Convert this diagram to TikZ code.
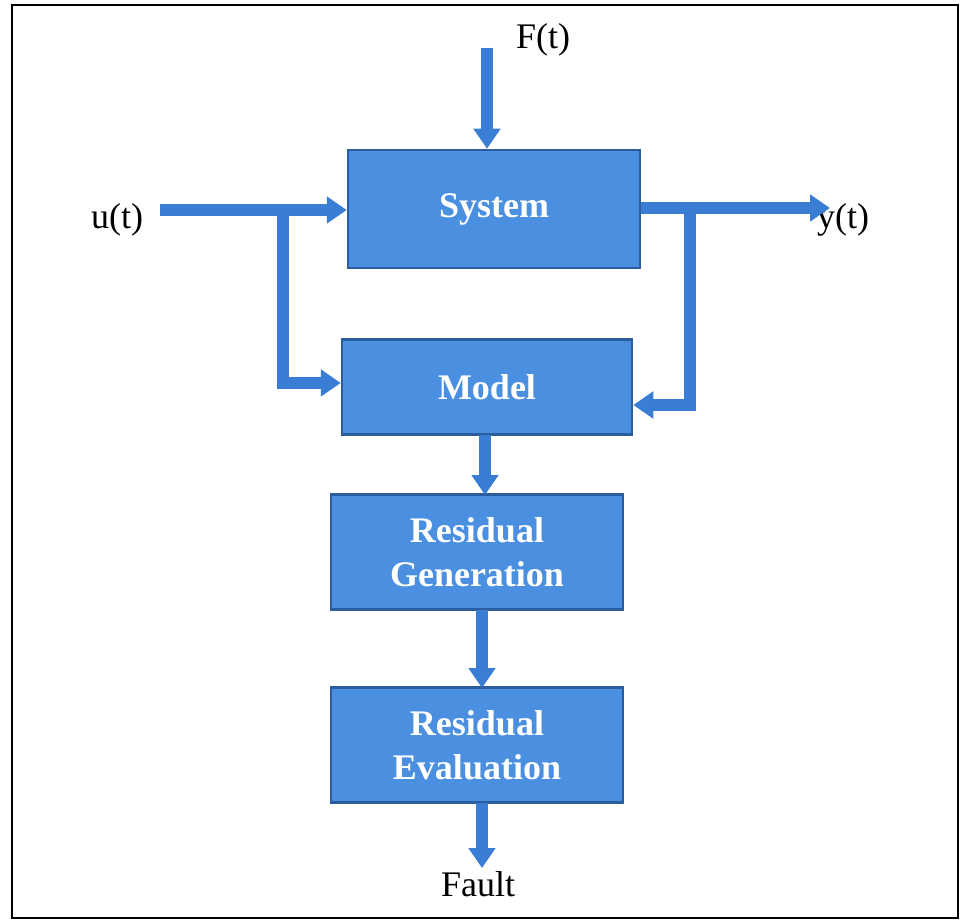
\documentclass[tikz,border=0pt]{standalone}
\usepackage{fontspec}
\setmainfont{Liberation Serif}
\usetikzlibrary{arrows.meta}
\usetikzlibrary{positioning}
\definecolor{boxfill}{HTML}{4A8FE0}
\definecolor{boxedge}{HTML}{2A5C9E}
\definecolor{flow}{HTML}{3A7DD4}
\tikzset{block/.style={draw=boxedge,line width=2.5pt,fill=boxfill,
      text=white,font=\fontsize{36}{44}\selectfont\bfseries,align=center,
      inner sep=0pt},
    flowline/.style={draw=flow,line width=12pt,-{Triangle[length=20pt,width=26pt]}},
    flowplain/.style={draw=flow,line width=12pt},
    label/.style={font=\fontsize{36}{40}\selectfont}}

\begin{document}
\begin{tikzpicture}[x=1pt,y=-1pt]
    \useasboundingbox (0,0) rectangle (966,923);
    \draw[line width=2.5pt] (12,5) rectangle (958,918);

    \node[block,minimum width=292pt,minimum height=118pt]
      (System) at (494,209) {System};
    \node[block,minimum width=290pt,minimum height=95pt]
      (Model) at (487,387) {Model};
    \node[block,minimum width=292pt,minimum height=115pt]
      (ResGen) at (477,552) {Residual\\Generation};
    \node[block,minimum width=292pt,minimum height=115pt]
      (ResEval) at (477,745) {Residual\\Evaluation};

    \node[label] (Ft) at (543,40) {F(t)};
    \node[label] (ut) at (117,220) {u(t)};
    \node[label] (yt) at (843,220) {y(t)};
    \node[label] (Fault) at (478,884) {Fault};

    \coordinate (ftop) at (487,48);
    \coordinate (uin) at (160,210);
    \coordinate (usplit) at (283,210);
    \coordinate (ucorner) at (283,383);
    \coordinate (yout) at (830,208);
    \coordinate (ysplit) at (690,208);
    \coordinate (ycorner) at (690,405);
    \coordinate (fend) at (482,868);

    \draw[flowline] (ftop) -- (ftop |- System.north);
    \draw[flowline] (uin) -- (uin -| System.west);
    \draw[flowplain] (usplit) -- (ucorner);
    \draw[flowline] ([xshift=-6pt]ucorner) -- (ucorner -| Model.west);
    \draw[flowline] (System.east |- yout) -- (yout);
    \draw[flowplain] (ysplit) -- (ycorner);
    \draw[flowline] ([xshift=6pt]ycorner) -- (ycorner -| Model.east);
    \draw[flowline] (485,435) -- (485,495);
    \draw[flowline] (482,610) -- (482,688);
    \draw[flowline] (482,803) -- (fend);
  \end{tikzpicture}
\end{document}
